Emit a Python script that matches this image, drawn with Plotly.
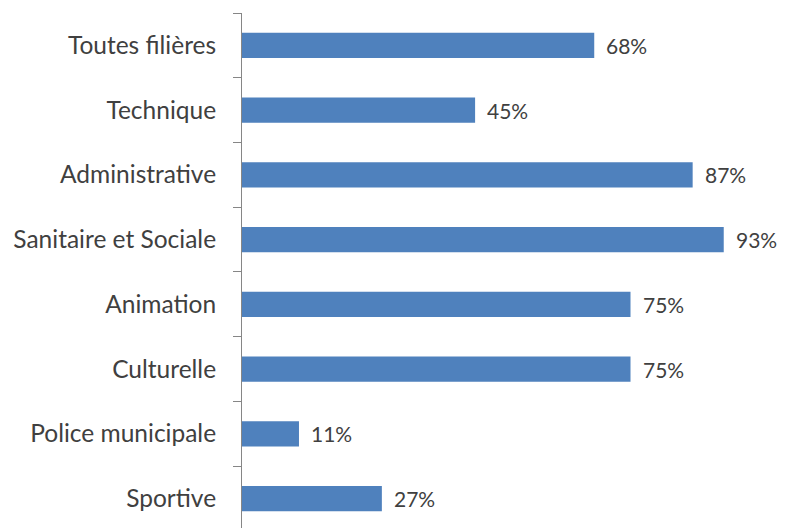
import plotly.graph_objects as go

categories = ["Toutes filières", "Technique", "Administrative", "Sanitaire et Sociale",
              "Animation", "Culturelle", "Police municipale", "Sportive"]
values = [68, 45, 87, 93, 75, 75, 11, 27]

cats = categories[::-1]
vals = values[::-1]

fig = go.Figure()
fig.add_trace(go.Bar(
    x=vals, y=cats, orientation="h",
    marker=dict(color="#4F81BD", line=dict(width=0)),
    hoverinfo="skip",
))
for c, v in zip(cats, vals):
    fig.add_annotation(x=v, y=c, text=f"{v}%", showarrow=False,
                       xanchor="left", xshift=10,
                       font=dict(family="Lato", size=21, color="#404040"))

fig.update_layout(
    width=779, height=520,
    margin=dict(l=234, r=27, t=5, b=0),
    paper_bgcolor="white", plot_bgcolor="white",
    bargap=0.61, showlegend=False,
    font=dict(family="Lato", size=24.5, color="#404040"),
)
fig.update_xaxes(range=[0, 100], visible=False, automargin=False)
fig.update_yaxes(type="category", categoryorder="array", categoryarray=cats,
                 range=[-0.454, 7.5], showline=True, linecolor="#868686", linewidth=1,
                 ticks="outside", tickson="boundaries", ticklen=8, tickcolor="#868686",
                 showgrid=False, zeroline=False, ticklabelstandoff=20, automargin=False)
fig.write_html("out.html")
